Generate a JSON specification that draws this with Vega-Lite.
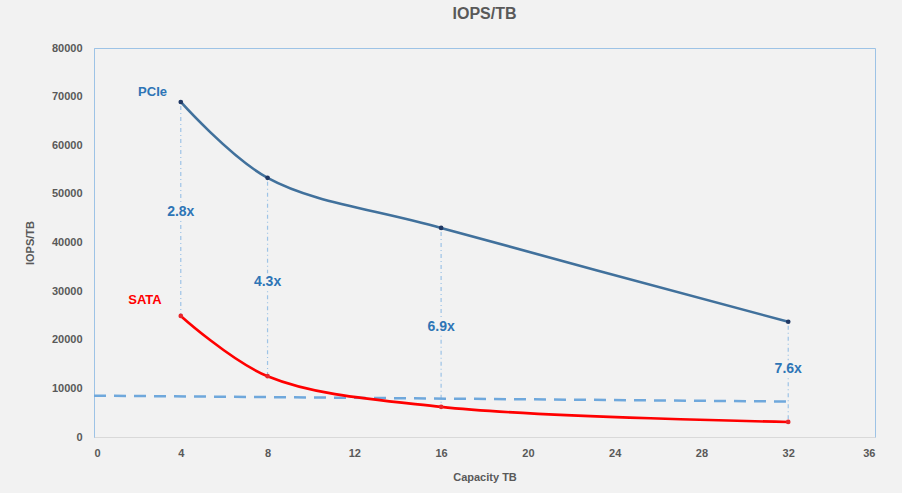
{
  "$schema": "https://vega.github.io/schema/vega-lite/v6.json",
  "width": 781,
  "height": 389,
  "autosize": {"type": "none"},
  "padding": {"left": 94, "top": 48, "right": 27, "bottom": 56},
  "background": "#F2F2F2",
  "title": {"text": "IOPS/TB", "fontSize": 16, "font": "Liberation Sans Narrow, Liberation Sans", "fontWeight": "bold", "color": "#595959", "anchor": "middle", "offset": 20},
  "config": {
    "view": {"stroke": "#9DC3E6", "strokeWidth": 1},
    "font": "Liberation Sans Narrow, Liberation Sans",
    "axis": {"grid": false, "ticks": false, "labelColor": "#595959", "titleColor": "#595959", "labelFontSize": 11, "labelFontWeight": "bold", "titleFontSize": 11, "titleFontWeight": "bold"}
  },
  "datasets": {
    "series": [
      {"cap": 4, "iops": 68900, "series": "PCIe"},
      {"cap": 8, "iops": 53300, "series": "PCIe"},
      {"cap": 16, "iops": 43000, "series": "PCIe"},
      {"cap": 32, "iops": 23700, "series": "PCIe"},
      {"cap": 4, "iops": 24900, "series": "SATA"},
      {"cap": 8, "iops": 12500, "series": "SATA"},
      {"cap": 16, "iops": 6200, "series": "SATA"},
      {"cap": 32, "iops": 3100, "series": "SATA"}
    ],
    "drops": [
      {"cap": 4, "y1": 68900, "y2": 48200},
      {"cap": 4, "y1": 44400, "y2": 24900},
      {"cap": 8, "y1": 53300, "y2": 33700},
      {"cap": 8, "y1": 30000, "y2": 12500},
      {"cap": 16, "y1": 43000, "y2": 24500},
      {"cap": 16, "y1": 20800, "y2": 6200},
      {"cap": 32, "y1": 23700, "y2": 15800},
      {"cap": 32, "y1": 12100, "y2": 3100}
    ],
    "baseline": [
      {"cap": 0, "iops": 8500},
      {"cap": 32, "iops": 7300}
    ],
    "ratios": [
      {"cap": 4, "iops": 46300, "label": "2.8x"},
      {"cap": 8, "iops": 31900, "label": "4.3x"},
      {"cap": 16, "iops": 22600, "label": "6.9x"},
      {"cap": 32, "iops": 14000, "label": "7.6x"}
    ],
    "names": [
      {"cap": 2.7, "iops": 70900, "label": "PCIe", "series": "PCIe"},
      {"cap": 2.35, "iops": 28200, "label": "SATA", "series": "SATA"}
    ]
  },
  "encoding": {
    "x": {"type": "quantitative", "scale": {"domain": [0, 36], "nice": false}, "axis": {"values": [0, 4, 8, 12, 16, 20, 24, 28, 32, 36], "title": "Capacity TB", "domainColor": "#D9D9D9", "labelPadding": 10, "titleY": 40, "titleBaseline": "middle"}},
    "y": {"type": "quantitative", "scale": {"domain": [0, 80000], "nice": false}, "axis": {"values": [0, 10000, 20000, 30000, 40000, 50000, 60000, 70000, 80000], "format": "d", "title": "IOPS/TB", "domainColor": "#9DC3E6", "labelPadding": 12, "titleX": -64, "titleY": 194.5, "titleBaseline": "middle"}}
  },
  "layer": [
    {
      "data": {"name": "drops"},
      "mark": {"type": "rule", "color": "#9DC3E6", "strokeWidth": 1.2, "strokeDash": [1, 3, 4, 3]},
      "encoding": {"x": {"field": "cap"}, "y": {"field": "y1"}, "y2": {"field": "y2"}}
    },
    {
      "data": {"name": "baseline"},
      "mark": {"type": "line", "color": "#6FA8DC", "strokeWidth": 2.5, "strokeDash": [12, 8]},
      "encoding": {"x": {"field": "cap"}, "y": {"field": "iops"}}
    },
    {
      "data": {"name": "series"},
      "mark": {"type": "line", "interpolate": "catmull-rom", "strokeWidth": 2.6},
      "encoding": {
        "x": {"field": "cap"},
        "y": {"field": "iops"},
        "color": {"field": "series", "type": "nominal", "scale": {"domain": ["PCIe", "SATA"], "range": ["#41719C", "#FF0000"]}, "legend": null}
      }
    },
    {
      "data": {"name": "series"},
      "mark": {"type": "point", "filled": true, "size": 22, "opacity": 1},
      "encoding": {
        "x": {"field": "cap"},
        "y": {"field": "iops"},
        "color": {"field": "series", "type": "nominal", "scale": {"domain": ["PCIe", "SATA"], "range": ["#1F3864", "#E8262A"]}, "legend": null}
      }
    },
    {
      "data": {"name": "ratios"},
      "mark": {"type": "text", "fontSize": 14, "fontWeight": "bold", "color": "#2E75B6", "font": "Liberation Sans"},
      "encoding": {"x": {"field": "cap"}, "y": {"field": "iops"}, "text": {"field": "label"}}
    },
    {
      "data": {"name": "names"},
      "mark": {"type": "text", "fontSize": 13, "fontWeight": "bold", "font": "Liberation Sans"},
      "encoding": {
        "x": {"field": "cap"},
        "y": {"field": "iops"},
        "text": {"field": "label"},
        "color": {"field": "series", "type": "nominal", "scale": {"domain": ["PCIe", "SATA"], "range": ["#2E75B6", "#FF0000"]}, "legend": null}
      }
    }
  ],
  "resolve": {"scale": {"color": "independent"}}
}
